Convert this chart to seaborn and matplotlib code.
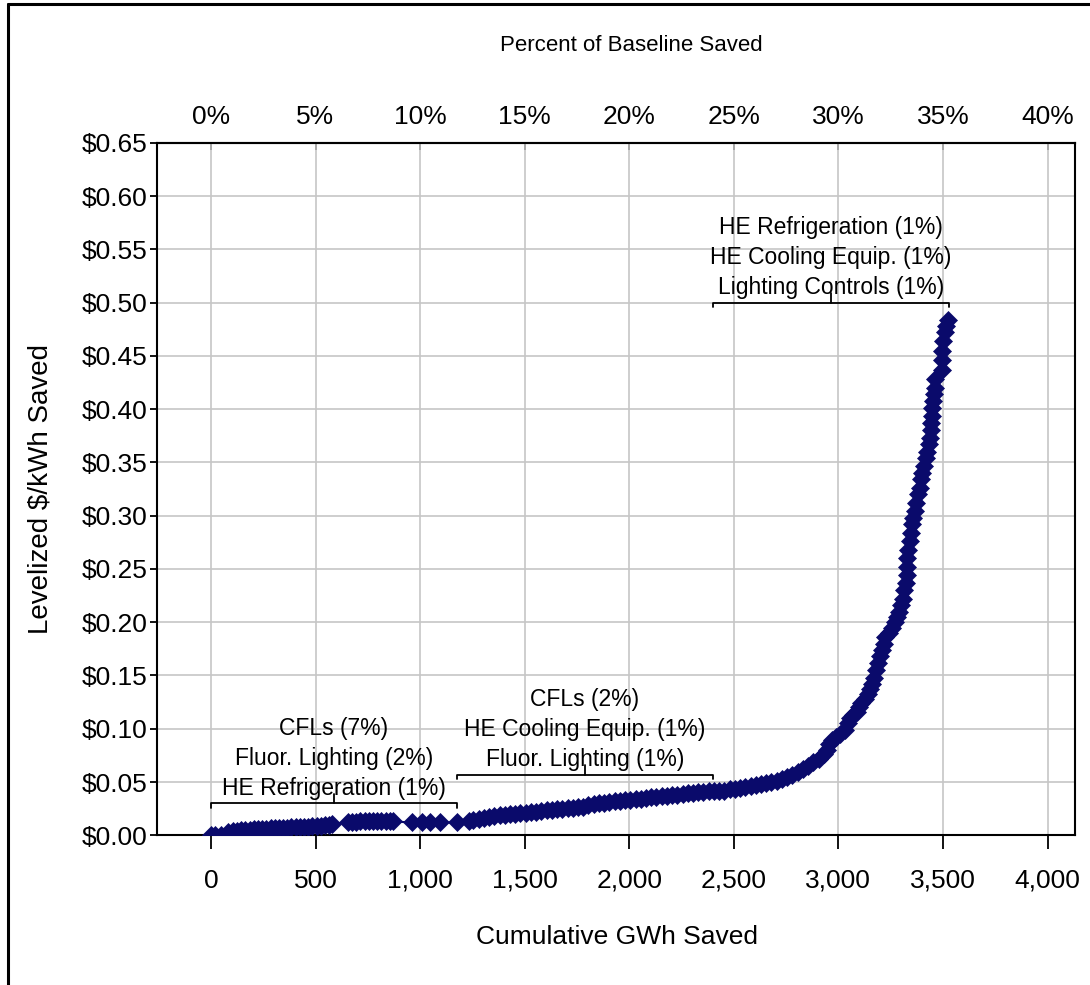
import pandas as pd
import seaborn as sns
import matplotlib.pyplot as plt
from matplotlib.lines import Line2D
from matplotlib.ticker import FuncFormatter

# Supply curve (cumulative GWh saved, levelized $/kWh)
gwh = [0, 20, 50, 80, 105, 125, 145, 165, 185, 205, 225, 245, 265, 285, 305,
       325, 345, 365, 385, 405, 425, 445, 465, 485, 505, 525, 545, 565, 580,
       655, 675, 695, 715, 735, 755, 775, 795, 815, 835, 855, 870,
       960, 1008, 1047, 1095, 1176,
       1235, 1255, 1280, 1305, 1330, 1355, 1380, 1405, 1430, 1455, 1480, 1505,
       1530, 1555, 1580, 1605, 1630, 1655, 1680, 1705, 1730, 1755, 1780, 1805,
       1830, 1855, 1880, 1905, 1930, 1955, 1980, 2005, 2030, 2055, 2080, 2105,
       2130, 2155, 2180, 2205, 2230, 2255, 2280, 2305, 2330, 2355, 2380, 2405,
       2430, 2455, 2480, 2505, 2530, 2555, 2580, 2605, 2630, 2655, 2680, 2705,
       2730, 2755, 2780, 2805, 2830, 2855, 2880, 2905, 2930, 2945, 2955, 2970,
       2990, 3010, 3030, 3045, 3055, 3070, 3090, 3100, 3110, 3125, 3140, 3150,
       3160, 3168, 3178, 3188, 3198, 3210, 3218, 3225, 3240, 3255, 3270, 3280,
       3290, 3300, 3308, 3315, 3322, 3326, 3328, 3330, 3334, 3340, 3345, 3352,
       3358, 3365, 3372, 3380, 3388, 3395, 3400, 3408, 3418, 3425, 3432, 3437,
       3441, 3445, 3447, 3449, 3452, 3458, 3462, 3462, 3497, 3495, 3494, 3500,
       3508, 3515, 3523]
cost = [0.000, 0.000, 0.000, 0.003, 0.004, 0.004, 0.005, 0.005, 0.005, 0.006,
        0.006, 0.006, 0.006, 0.007, 0.007, 0.007, 0.007, 0.007, 0.008, 0.008,
        0.008, 0.008, 0.008, 0.009, 0.009, 0.009, 0.010, 0.010, 0.011,
        0.012, 0.012, 0.012, 0.013, 0.013, 0.013, 0.013, 0.013, 0.013, 0.013,
        0.013, 0.013,
        0.012, 0.012, 0.012, 0.012, 0.012,
        0.013, 0.014, 0.015, 0.016, 0.017, 0.018, 0.019, 0.019, 0.020, 0.020,
        0.021, 0.021, 0.022, 0.022, 0.023, 0.024, 0.024, 0.025, 0.025, 0.026,
        0.026, 0.027, 0.027, 0.028, 0.029, 0.030, 0.030, 0.031, 0.032, 0.032,
        0.033, 0.033, 0.034, 0.034, 0.035, 0.036, 0.036, 0.037, 0.037, 0.038,
        0.038, 0.039, 0.040, 0.040, 0.041, 0.041, 0.042, 0.042, 0.042, 0.042,
        0.043, 0.043, 0.044, 0.045, 0.046, 0.047, 0.048, 0.049, 0.050, 0.051,
        0.053, 0.055, 0.057, 0.059, 0.062, 0.065, 0.069, 0.072, 0.076, 0.080,
        0.086, 0.089, 0.092, 0.095, 0.099, 0.105, 0.110, 0.113, 0.116, 0.120,
        0.124, 0.128, 0.133, 0.137, 0.142, 0.148, 0.155, 0.162, 0.168, 0.174,
        0.180, 0.186, 0.190, 0.195, 0.200, 0.205, 0.210, 0.216, 0.222, 0.230,
        0.237, 0.244, 0.252, 0.260, 0.268, 0.276, 0.284, 0.292, 0.298, 0.304,
        0.312, 0.320, 0.326, 0.334, 0.340, 0.347, 0.354, 0.360, 0.367, 0.373,
        0.380, 0.387, 0.394, 0.401, 0.408, 0.414, 0.420, 0.428, 0.437, 0.446,
        0.455, 0.464, 0.472, 0.478, 0.484]

# measure groups marked with brackets
group_start = [0, 1176, 2400]
group_end = [1176, 2400, 3528]
group_level = [0.030, 0.057, 0.500]
group_text = ["CFLs (7%)\nFluor. Lighting (2%)\nHE Refrigeration (1%)",
              "CFLs (2%)\nHE Cooling Equip. (1%)\nFluor. Lighting (1%)",
              "HE Refrigeration (1%)\nHE Cooling Equip. (1%)\nLighting Controls (1%)"]

x_ticks = list(range(0, 4001, 500))
pct_ticks = list(range(0, 41, 5))
y_ticks = [i * 0.05 for i in range(14)]

navy = "#0a0a6b"

sns.set_style("white")
plt.rcParams["font.family"] = ["Liberation Sans", "DejaVu Sans"]
plt.rcParams.update({"text.color": "black", "axes.labelcolor": "black",
                     "xtick.color": "black", "ytick.color": "black"})

fig, ax = plt.subplots(figsize=(10.9, 9.85), dpi=100)
fig.subplots_adjust(left=0.144, right=0.986, bottom=0.152, top=0.855)

df = pd.DataFrame({"gwh": gwh, "cost": cost})
sns.lineplot(data=df, x="gwh", y="cost", sort=False, estimator=None,
             color=navy, lw=1.5, marker="D", markersize=9,
             markeredgecolor=navy, markeredgewidth=0.5, ax=ax, zorder=3)

ax.set_xlim(-258, 4130)
ax.set_ylim(0, 0.65)
ax.set_xticks(x_ticks)
ax.set_yticks(y_ticks)
ax.xaxis.set_major_formatter(FuncFormatter(lambda v, p: f"{v:,.0f}"))
ax.yaxis.set_major_formatter(FuncFormatter(lambda v, p: f"${v:.2f}"))
ax.grid(True, color="#c6c6c6", lw=1.2)
ax.set_axisbelow(True)
for s in ax.spines.values():
    s.set_visible(True)
    s.set_color("black")
    s.set_linewidth(1.5)

ax.tick_params(axis="x", direction="out", bottom=True, length=10, width=1.3,
               pad=14, labelsize=19, colors="black")
ax.tick_params(axis="y", direction="out", left=True, length=5, width=1.3,
               pad=1.5, labelsize=19, colors="black")

ax.set_xlabel("Cumulative GWh Saved", fontsize=19, color="black")
ax.xaxis.set_label_coords(0.501, -0.13)
ax.set_ylabel("Levelized $/kWh Saved", fontsize=20, color="black")
ax.yaxis.set_label_coords(-0.113, 0.5)

# top axis: percent of baseline (10,000 GWh)
secax = ax.secondary_xaxis("top", functions=(lambda x: x / 100, lambda p: p * 100))
secax.set_xticks(pct_ticks)
secax.xaxis.set_major_formatter(FuncFormatter(lambda v, p: f"{v:.0f}%"))
secax.tick_params(direction="in", top=True, length=5, width=1.3, pad=10,
                  labelsize=19, colors="black")
secax.spines["top"].set_linewidth(1.5)
fig.text(0.579, 0.954, "Percent of Baseline Saved", fontsize=16,
         ha="center", va="center", color="black")

# brackets with labels
for s, e, lvl, txt in zip(group_start, group_end, group_level, group_text):
    m = (s + e) / 2
    ax.plot([s, s, e, e], [lvl - 0.004, lvl, lvl, lvl - 0.004], color="black", lw=1.3)
    ax.plot([m, m], [lvl, lvl + 0.009], color="black", lw=1.3)
    ax.text(m, lvl + 0.003, txt, ha="center", va="bottom", fontsize=16.5,
            linespacing=1.4, zorder=4, color="black")

# outer frame
fig.add_artist(Line2D([0.0073, 0.0073], [0, 0.9955], transform=fig.transFigure,
                      color="black", lw=2.2))
fig.add_artist(Line2D([0.0073, 1], [0.9955, 0.9955], transform=fig.transFigure,
                      color="black", lw=2.2))

fig.savefig("out.png", dpi=100)
